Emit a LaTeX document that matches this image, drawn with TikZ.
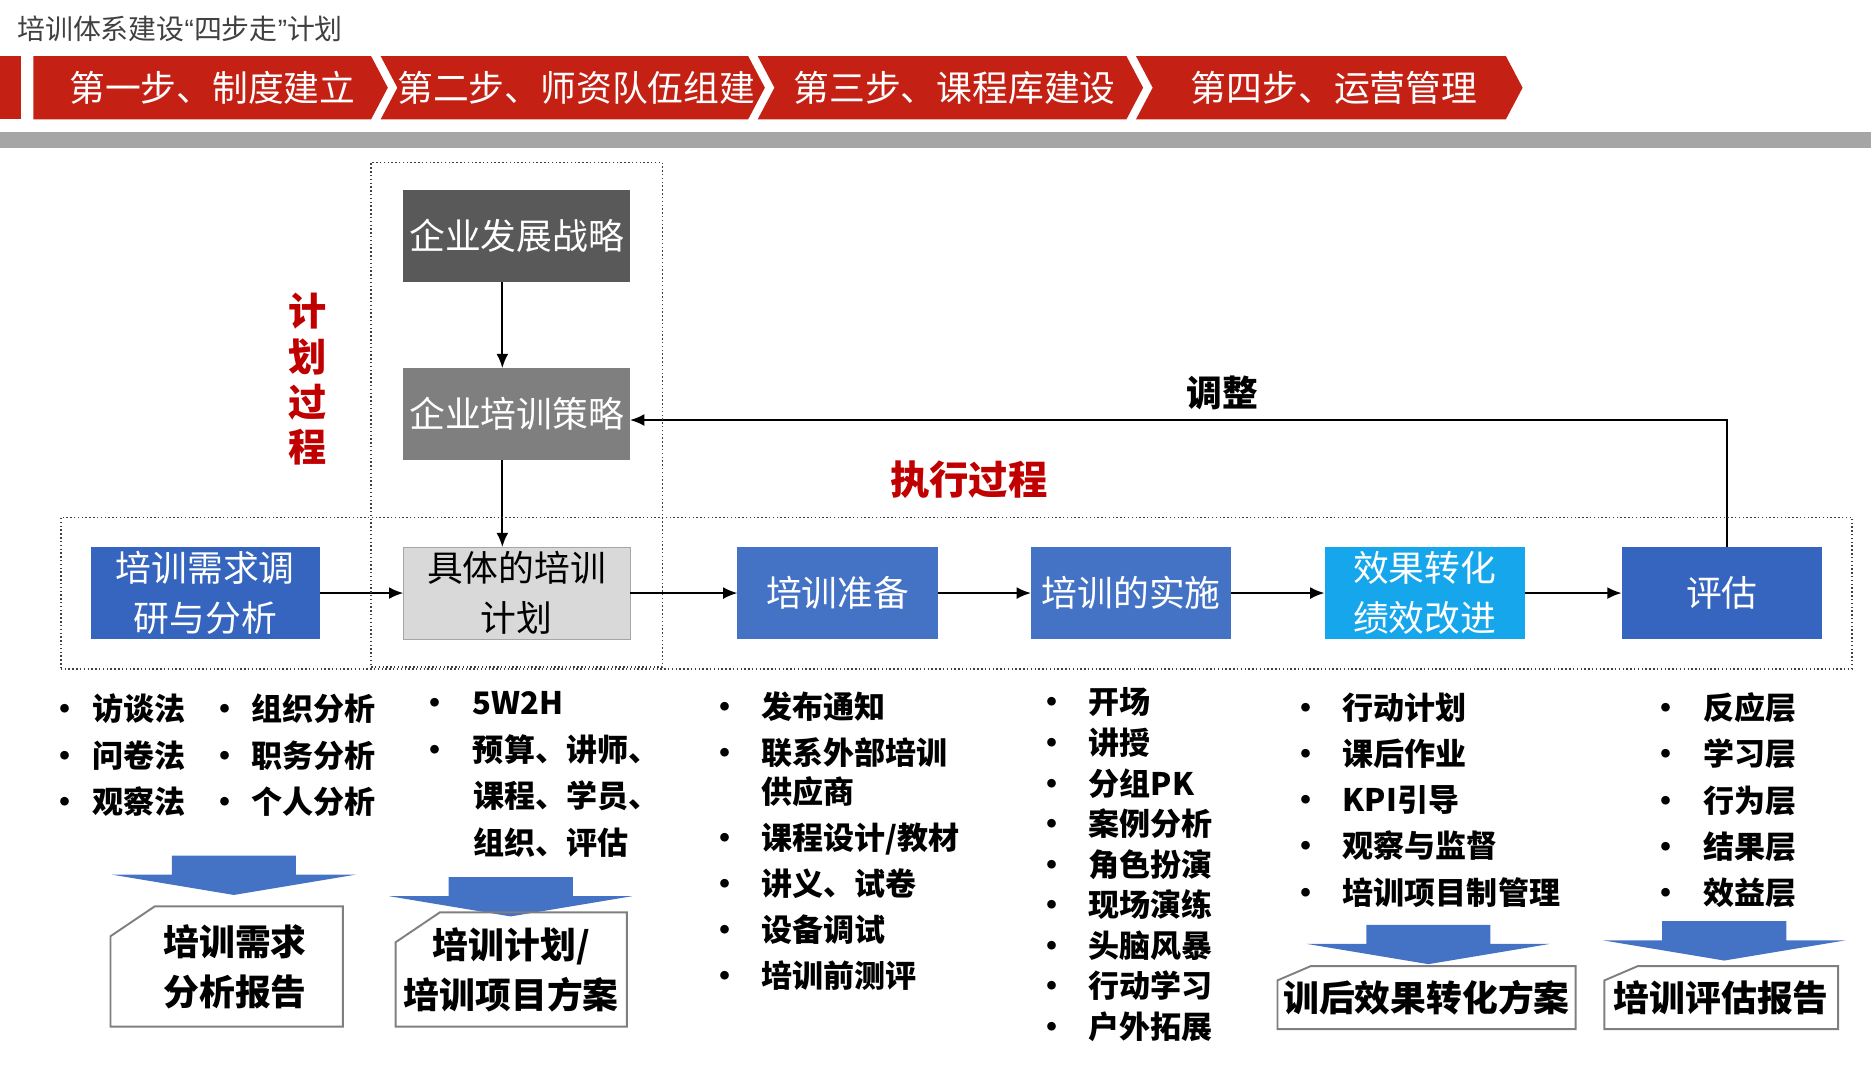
\documentclass[tikz,border=0pt]{standalone}
\usepackage{fontspec}
\setmainfont{Noto Sans CJK SC}
\newfontfamily\latinfont{Liberation Sans}
\usetikzlibrary{arrows.meta, positioning, fit}
\definecolor{bannerred}{HTML}{C42014}
\definecolor{bandgray}{HTML}{A6A6A6}
\definecolor{titlegray}{HTML}{404040}
\definecolor{darkbox}{HTML}{595959}
\definecolor{midbox}{HTML}{7F7F7F}
\definecolor{lightbox}{HTML}{D9D9D9}
\definecolor{needblue}{HTML}{3565BE}
\definecolor{stepblue}{HTML}{4472C4}
\definecolor{cyanbox}{HTML}{16A6EC}
\definecolor{arrowblue}{HTML}{4472C4}
\definecolor{labelred}{HTML}{C00000}
\newcommand{\li}[2][22pt]{\makebox[#1][l]{\textbullet}#2}
\newcommand{\lc}[2][22pt]{\hspace*{#1}#2}

\begin{document}
\begin{tikzpicture}[x=0.5pt, y=-0.5pt,
    node distance=39pt,
    chevtext/.style={text=white, inner sep=0pt, font=\fontsize{15}{18}\selectfont},
    box/.style={rectangle, minimum width=95pt, minimum height=38.5pt, inner sep=0pt, outer sep=0pt, align=center, text=white, font=\fontsize{15}{21}\selectfont},
    bluebox/.style={box, fill=stepblue, minimum width=84pt},
    arrow/.style={-{Latex[length=6pt, width=5pt]}, line width=0.8pt},
    procbox/.style={draw=black!75, densely dotted, line width=0.6pt, inner sep=12.5pt},
    redlabel/.style={text=labelred, inner sep=0pt, align=center, font=\bfseries\fontsize{16}{19}\selectfont},
    listtext/.style={anchor=north west, align=left, inner sep=0pt, text=black, font=\bfseries\fontsize{13}{19.5}\selectfont},
    docbox/.style={inner sep=0pt, align=center, font=\bfseries\fontsize{15}{21}\selectfont},
    docline/.style={draw=midbox, line width=0.8pt}
  ]
  \useasboundingbox (0,0) rectangle (1568,896);

  % title and step banner
  \node[anchor=west, inner sep=0pt, text=titlegray, font=\fontsize{11.7}{14}\selectfont] (title) at (14,24) {培训体系建设{\latinfont“}四步走{\latinfont”}计划};
  \fill[bannerred] (0,47) rectangle (18,100);
  \foreach \l/\r/\n/\tx/\txt [count=\i] in {28/311/0/178/第一步、制度建立, 319/627/14/483/第二步、师资队伍组建, 635/944/14/800/第三步、课程库建设, 952/1262/14/1118/第四步、运营管理} {
    \fill[bannerred] (\l,47) -- (\r,47) -- ({\r+14},73.5) -- (\r,100) -- (\l,100) -- ({\l+\n},73.5) -- cycle;
    \node[chevtext] (step\i) at (\tx,73.5) {\txt};
  }
  \fill[bandgray] (0,111) rectangle (1568,124);

  % process nodes
  \node[bluebox, fill=needblue, minimum width=96pt] (needs) at (172,497) {培训需求调\\研与分析};
  \node[box, fill=lightbox, draw=bandgray, text=black, right=35pt of needs] (spec) {具体的培训\\计划};
  \node[box, fill=midbox, above=36.5pt of spec] (trainstrat) {企业培训策略};
  \node[box, fill=darkbox, above=36pt of trainstrat] (devstrat) {企业发展战略};
  \node[bluebox, right=45pt of spec] (prep) {培训准备};
  \node[bluebox, right=of prep] (impl) {培训的实施};
  \node[bluebox, fill=cyanbox, right=of impl] (transfer) {效果转化\\绩效改进};
  \node[bluebox, fill=needblue, right=40.5pt of transfer] (assess) {评估};

  \draw[arrow] ([xshift=-6pt]devstrat.south) -- ([xshift=-6pt]trainstrat.north);
  \draw[arrow] ([xshift=-6pt]trainstrat.south) -- ([xshift=-6pt]spec.north);
  \draw[arrow] (needs) -- (spec);
  \draw[arrow] (spec) -- (prep);
  \draw[arrow] (prep) -- (impl);
  \draw[arrow] (impl) -- (transfer);
  \draw[arrow] (transfer) -- (assess);
  \draw[arrow] ([xshift=2pt]assess.north) |- node[pos=0.73, above=4pt, inner sep=0pt, font=\bfseries\fontsize{15}{18}\selectfont] (adjust) {调整} ([yshift=-2.5pt]trainstrat.east);

  \node[procbox, fit=(needs)(assess)] (execbox) {};
  \node[procbox, inner xsep=13.5pt, inner ysep=11.75pt, fit=(devstrat)(spec)] (planbox) {};
  \node[redlabel] (planlabel) at (258,318) {计\\划\\过\\程};
  \node[redlabel, font=\bfseries\fontsize{16.5}{19}\selectfont] (execlabel) at (812,402) {执行过程};

  % method lists
  \node[listtext] (methodsA) at (41,581) {\li[18pt]{访谈法}\\\li[18pt]{问卷法}\\\li[18pt]{观察法}};
  \node[listtext] (methodsB) at (175,581) {\li[17.5pt]{组织分析}\\\li[17.5pt]{职务分析}\\\li[17.5pt]{个人分析}};
  \node[listtext] (planitems) at (351,579) {\li[22.5pt]{5W2H}\\\li[22.5pt]{预算、讲师、}\\\lc[22.5pt]{课程、学员、}\\\lc[22.5pt]{组织、评估}};
  \node[listtext, font=\bfseries\fontsize{13}{16.5}\selectfont] (prepitems) at (594,579) {\li{发布通知}\\[2.75pt]\li{联系外部培训}\\\lc{供应商}\\[2.75pt]\li{课程设计/教材}\\[2.75pt]\li{讲义、试卷}\\[2.75pt]\li{设备调试}\\[2.75pt]\li{培训前测评}};
  \node[listtext, font=\bfseries\fontsize{13}{17}\selectfont] (implitems) at (868,576) {\li{开场}\\\li{讲授}\\\li{分组PK}\\\li{案例分析}\\\li{角色扮演}\\\li{现场演练}\\\li{头脑风暴}\\\li{行动学习}\\\li{户外拓展}};
  \node[listtext, font=\bfseries\fontsize{13}{19.4}\selectfont] (transitems) at (1081,580) {\li{行动计划}\\\li{课后作业}\\\li{KPI引导}\\\li{观察与监督}\\\li{培训项目制管理}};
  \node[listtext, font=\bfseries\fontsize{13}{19.4}\selectfont] (levelitems) at (1383,580) {\li{反应层}\\\li{学习层}\\\li{行为层}\\\li{结果层}\\\li{效益层}};

  % output arrows and documents
  \foreach \cx/\ty in {196/717, 428/735, 1197/775, 1445/772}
    \fill[arrowblue] ({\cx-52},\ty) -- ({\cx+52},\ty) -- ({\cx+52},{\ty+16}) -- ({\cx+102},{\ty+16}) -- (\cx,{\ty+33}) -- ({\cx-102},{\ty+16}) -- ({\cx-52},{\ty+16}) -- cycle;

  \node[docbox, minimum width=97pt, minimum height=50pt] (needsrep) at (190,810) {\hspace*{7pt}培训需求\\\hspace*{7pt}分析报告};
  \node[docbox, minimum width=96.5pt, minimum height=47.5pt] (planrep) at (428.5,812.5) {培训计划/\\培训项目方案};
  \node[docbox, minimum width=124.5pt, minimum height=26pt] (transrep) at (1195.5,836) {训后效果转化方案};
  \node[docbox, minimum width=97.5pt, minimum height=26pt] (evalrep) at (1442.5,836) {培训评估报告};
  \foreach \d/\cw/\ch in {needsrep/18.5pt/12.5pt, planrep/18.5pt/12.5pt, transrep/14pt/6pt, evalrep/14pt/6pt}
    \draw[docline] (\d.south west) -- ([yshift=-\ch]\d.north west) -- ([xshift=\cw]\d.north west) -- (\d.north east) -- (\d.south east) -- cycle;
\end{tikzpicture}
\end{document}
